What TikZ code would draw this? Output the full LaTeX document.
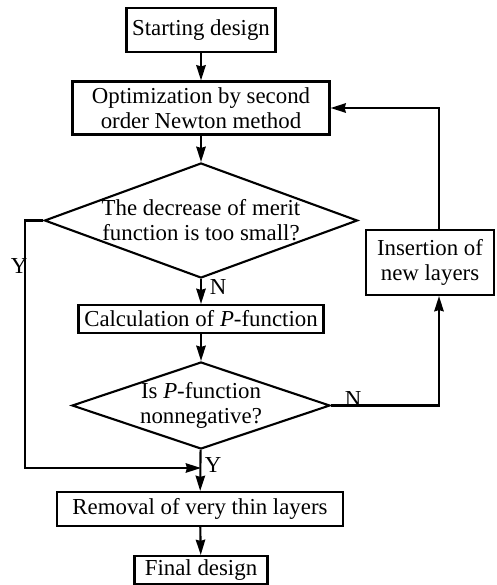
\documentclass[tikz,border=0pt]{standalone}
\usepackage{fontspec}
\setmainfont{Liberation Serif}
\usetikzlibrary{shapes.geometric,arrows.meta}

\begin{document}
\begin{tikzpicture}[x=0.03cm,y=-0.03cm,line width=1.8pt,
    every node/.style={font=\fontsize{19.5}{21.5}\selectfont},
    box/.style={draw,rectangle,align=center,inner sep=0pt},
    test/.style={draw,diamond,align=center,inner sep=-2.5cm},
    tag/.style={inner sep=0pt},
    >={Stealth[length=13pt,width=8pt,inset=1pt]}]
  \useasboundingbox (0,0) rectangle (496,585);
  % main column
  \node[box,minimum width=4.47cm,minimum height=1.32cm] (start) at (201,30) {Starting design};
  \node[box,minimum width=7.71cm,minimum height=1.59cm] (opt) at (201,108) {Optimization by second\\order Newton method};
  \node[test,minimum width=9.39cm,minimum height=3.45cm] (dec) at (201,220.5) {The decrease of merit\\function is too small?};
  \node[box,minimum width=7.35cm,minimum height=0.84cm] (calc) at (201,319) {Calculation of \textit{P}-function};
  \node[test,minimum width=7.74cm,minimum height=2.61cm] (pos) at (201,405.5) {Is \textit{P}-function\\nonnegative?};
  \node[box,minimum width=8.58cm,minimum height=1.02cm] (rem) at (200,509) {Removal of very thin layers};
  \node[box,minimum width=3.99cm,minimum height=0.84cm] (fin) at (201,570) {Final design};
  % side box
  \node[box,minimum width=3.84cm,minimum height=1.95cm] (ins) at (430,262.5) {Insertion of\\new layers};
  \coordinate (ymeet) at (201,468);

  \path[->]
    (start) edge (opt)
    (opt)   edge (dec)
    (dec)   edge (calc)
    (calc)  edge (pos)
    (pos)   edge (rem)
    (rem)   edge (fin);
  \draw[->] (dec.west) -- ++(-18,0) |- (ymeet);
  \draw[->] (pos.east) -| ([xshift=0.27cm]ins.south);
  \draw[->] ([xshift=0.27cm]ins.north) |- (opt.east);

  \node[tag] (n1) at (218,287) {N};
  \node[tag] (y1) at (19,266) {Y};
  \node[tag] (n2) at (353,399) {N};
  \node[tag] (y2) at (213,465) {Y};
\end{tikzpicture}
\end{document}
